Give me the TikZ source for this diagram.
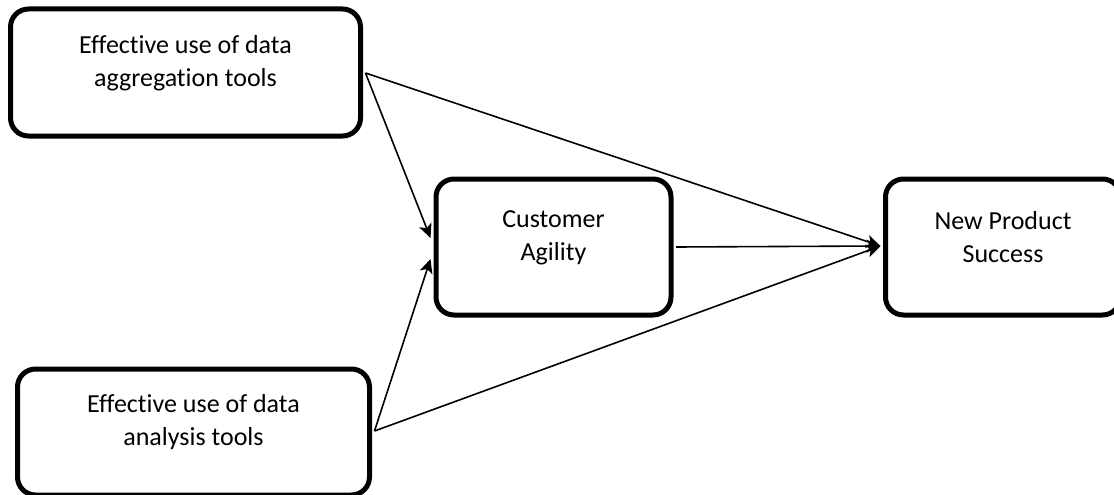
\documentclass[tikz,border=0pt]{standalone}
\usepackage{fontspec}
\setmainfont{Carlito}[Ligatures=NoCommon]
\usetikzlibrary{arrows.meta,calc}
\begin{document}
\begin{tikzpicture}[x=1pt,y=-1pt,
  box/.style={draw,line width=5pt,rounded corners=18pt,inner sep=0pt,fill=white},
  lbl/.style={font=\fontsize{26}{33}\selectfont,align=center,inner sep=0pt},
  conn/.style={line width=1.6pt,-{Stealth[length=14pt,width=13pt,inset=3.5pt]}}]
\useasboundingbox (0,0) rectangle (1114,495);
\node[box,minimum width=350pt,minimum height=127pt,
  label={[lbl,yshift=9pt]center:Effective use of data\\aggregation tools}] (b1) at (185.5,72.5) {};
\node[box,minimum width=235pt,minimum height=136pt,
  label={[lbl,yshift=9.5pt]center:Customer\\Agility}] (ca) at (553.5,247) {};
\node[box,minimum width=235pt,minimum height=136pt,
  label={[lbl,yshift=9.5pt]center:New Product\\Success}] (nps) at (1003,247) {};
\node[box,minimum width=352pt,minimum height=126pt,
  label={[lbl,yshift=9.5pt]center:Effective use of data\\analysis tools}] (b4) at (193.5,432) {};
\draw[conn] ($(b1.east)+(2.5,0.5)$) -- ($(nps.west)+(-2.5,-1)$);
\draw[conn] ($(b1.east)+(2.5,0.5)$) -- ($(ca.west)+(-3,-9)$);
\draw[conn] ($(b4.east)+(2.5,-1)$) -- ($(ca.west)+(-3,12)$);
\draw[conn] ($(b4.east)+(2.5,-1)$) -- ($(nps.west)+(-2.5,-1)$);
\draw[conn] ($(ca.east)+(2.5,0)$) -- ($(nps.west)+(-2.5,-1)$);
\end{tikzpicture}
\end{document}
